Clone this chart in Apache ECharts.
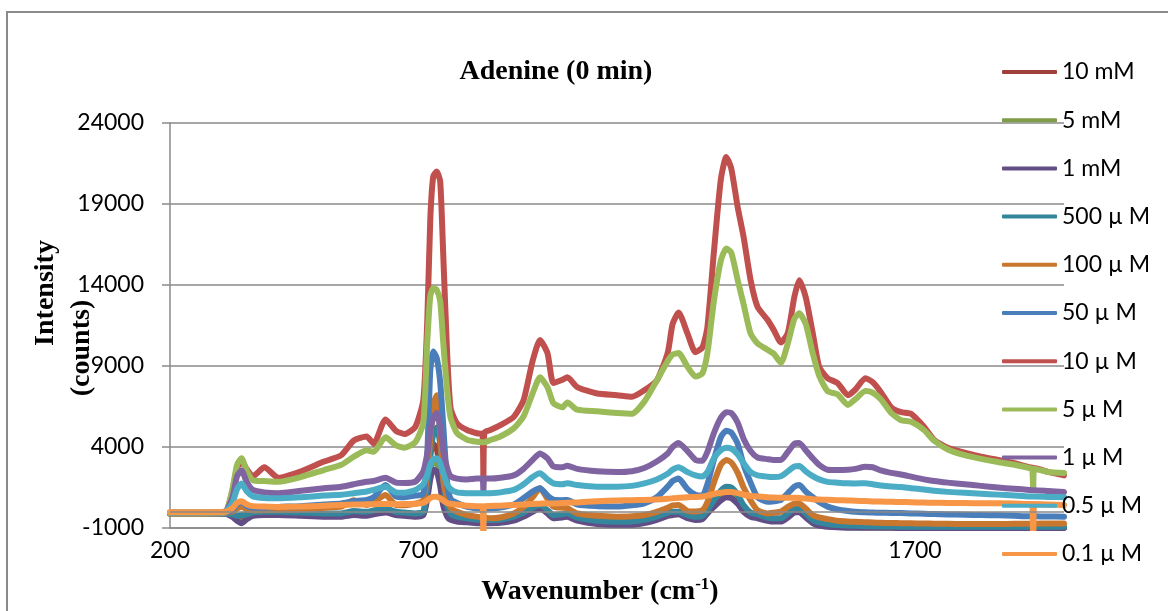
<!DOCTYPE html>
<html>
<head>
<meta charset="utf-8">
<script src="https://cdn.jsdelivr.net/npm/echarts@6/dist/echarts.min.js"></script>
<style>
  html, body { margin: 0; padding: 0; background: #fff; }
  #chart { width: 1168px; height: 611px; }
</style>
</head>
<body>
<div id="chart"></div>
<script>
// Raman shift (cm-1) sample positions shared by every spectrum
const wavenumber = [
  200,260,310,325,335,344,355,367,390,418,
  464,510,545,570,596,610,634,655,672,694,
  710,718,724,730,737,744,750,758,765,778,
  798,818,829,831,833,845,865,892,912,930,
  945,960,972,990,1000,1020,1060,1100,1130,1155,
  1180,1202,1212,1224,1242,1258,1272,1282,1295,1309,
  1320,1330,1343,1355,1369,1383,1403,1416,1430,1444,
  1457,1467,1480,1494,1507,1524,1544,1565,1580,1600,
  1615,1631,1652,1672,1692,1718,1738,1766,1800,1833,
  1867,1900,1930,1936,1938,1940,1968,2000
];

const seriesNames = ['10 mM','5 mM','1 mM','500 µ M','100 µ M','50 µ M','10 µ M','5 µ M','1 µ M','0.5 µ M','0.1 µ M'];
const seriesColors = ['#A0403D','#7F9C48','#634D85','#33869C','#C9772F','#4A7EBB','#C0504D','#9BBB59','#8064A2','#4BACC6','#F79646'];

// Intensities (counts)
const int10mM = [
  -100,-100,-100,-200,-450,-550,-350,-150,-100,-100,
  -150,-200,-200,-100,-150,-50,50,-100,-150,-200,
  -100,1500,3500,4200,3900,2500,800,-100,-400,-500,
  -550,-600,-600,-600,-600,-600,-580,-450,-200,100,
  300,0,-300,-250,-200,-450,-650,-700,-700,-600,
  -400,-150,-100,-80,-300,-400,-350,0,500,1000,
  1200,1150,800,200,-200,-300,-450,-500,-500,-250,
  50,80,-250,-600,-750,-850,-900,-920,-930,-940,
  -940,-950,-950,-950,-950,-950,-950,-950,-960,-960,
  -960,-960,-960,-960,-960,-960,-960,-960
];
const int5mM = [
  -100,-100,-100,-250,-500,-650,-400,-200,-150,-150,
  -200,-250,-250,-150,-200,-100,0,-150,-200,-250,
  -150,1000,2600,3200,3000,2000,600,-200,-450,-550,
  -600,-650,-650,-650,-650,-650,-620,-500,-250,50,
  250,-50,-350,-300,-250,-500,-700,-750,-750,-650,
  -450,-200,-150,-120,-350,-450,-400,-50,400,850,
  1050,1000,650,100,-250,-350,-500,-550,-550,-300,
  0,30,-300,-650,-800,-880,-930,-950,-960,-965,
  -970,-970,-970,-975,-975,-975,-975,-980,-980,-980,
  -980,-980,-980,-980,-980,-980,-980,-980
];
const int1mM = [
  -100,-100,-100,-300,-550,-700,-450,-250,-200,-200,
  -250,-300,-300,-200,-250,-150,-50,-200,-250,-300,
  -200,800,2000,2600,2500,1600,400,-300,-500,-600,
  -650,-700,-700,-700,-700,-700,-680,-550,-300,0,
  200,-100,-400,-350,-300,-550,-750,-800,-800,-700,
  -500,-250,-200,-150,-400,-500,-450,-100,300,700,
  900,850,500,0,-300,-400,-550,-600,-600,-350,
  -50,-20,-350,-700,-850,-920,-960,-980,-990,-990,
  -990,-990,-990,-995,-995,-995,-995,-995,-995,-995,
  -995,-995,-995,-995,-995,-995,-995,-995
];
const int500uM = [
  -100,-100,-100,-150,-250,-200,-150,-50,0,0,
  -50,-100,-100,50,0,80,210,0,-50,-100,
  0,1500,3500,4800,5200,4200,2000,400,-100,-300,
  -400,-480,-500,-500,-500,-500,-480,-300,-50,250,
  420,100,-200,-150,-100,-350,-550,-620,-600,-500,
  -300,-50,0,10,-200,-300,-250,100,700,1300,
  1550,1500,1050,400,-50,-150,-350,-400,-400,-100,
  200,220,-100,-500,-650,-750,-820,-850,-860,-880,
  -890,-900,-910,-920,-920,-920,-920,-930,-930,-930,
  -930,-930,-930,-930,-930,-930,-930,-930
];
const int100uM = [
  -100,-100,-80,0,200,300,150,100,100,110,
  150,250,320,720,420,600,1030,420,400,500,
  700,2500,4500,6600,7200,5000,2000,800,250,0,
  -200,-300,-350,-350,-350,-400,-350,-100,300,900,
  1450,800,320,250,220,-100,-250,-300,-280,-200,
  0,250,400,420,50,20,100,600,1800,2900,
  3200,3050,2400,1500,700,100,-100,-50,10,300,
  500,520,200,-200,-350,-450,-550,-600,-620,-640,
  -660,-680,-690,-700,-710,-720,-730,-740,-750,-750,
  -750,-740,-730,-730,-730,-730,-720,-720
];
const int50uM = [
  -100,-100,-80,100,450,600,350,250,250,300,
  350,450,520,650,730,900,1650,950,900,1000,
  1100,3600,8700,9900,9500,8000,5400,1800,800,540,
  300,220,200,200,200,210,260,450,850,1250,
  1450,1000,750,720,730,450,350,320,400,520,
  900,1550,1900,2050,1400,1050,1000,1700,3200,4600,
  5000,4900,4200,2900,1800,900,620,650,730,1150,
  1550,1650,1250,900,600,320,150,50,0,-30,
  -50,-60,-70,-80,-100,-120,-140,-160,-180,-200,
  -220,-250,-280,-280,-280,-280,-290,-300
];
const int10uM = [
  -100,-100,-50,1200,2700,3100,2600,2200,2750,2100,
  2500,3100,3500,4400,4650,4200,5700,5000,4800,5250,
  6900,11800,18000,20700,21000,20400,16000,9800,6400,5450,
  5050,4850,4800,2000,4900,5050,5350,5850,6900,9300,
  10600,9800,7950,8150,8300,7700,7300,7200,7100,7500,
  8100,9800,11600,12300,11000,9850,10150,11400,16000,20500,
  21900,21200,18800,16950,14300,12650,11850,11200,10450,11050,
  13250,14300,13250,11050,8950,8250,7950,7200,7550,8250,
  8000,7400,6450,6150,6050,5250,4450,3950,3650,3400,
  3200,3000,2750,2720,2700,2700,2460,2250
];
const int5uM = [
  -100,-100,-50,1300,2900,3300,2500,1950,1900,1850,
  2150,2580,2900,3400,3800,3700,4600,4100,3950,4300,
  5500,10500,13300,13800,13700,13000,10500,7500,5800,4850,
  4450,4320,4300,4300,4300,4430,4650,5150,5900,7300,
  8300,7700,6700,6450,6750,6300,6200,6100,6050,6800,
  8100,9300,9700,9800,8950,8350,8550,9800,13000,15500,
  16250,16000,14300,12800,11000,10400,10000,9750,9200,10400,
  11900,12250,11600,9800,8400,7450,7250,6600,6950,7450,
  7350,6950,6100,5650,5560,5050,4400,3850,3500,3270,
  3070,2900,2700,2650,1350,2650,2460,2400
];
const int1uM = [
  -50,-50,0,800,2200,2550,1800,1350,1200,1150,
  1300,1450,1550,1700,1850,1900,2100,1800,1780,1860,
  2500,3600,4900,5800,6100,5200,3800,2700,2200,2050,
  2000,2050,2050,1300,2050,2050,2100,2250,2650,3200,
  3600,3300,2800,2750,2850,2650,2500,2450,2500,2700,
  3100,3600,4000,4250,3750,3200,3150,3700,4850,5800,
  6150,6100,5500,4500,3750,3350,3250,3200,3200,3700,
  4200,4250,3800,3300,2900,2600,2580,2600,2650,2780,
  2750,2550,2400,2300,2170,2000,1900,1800,1700,1600,
  1500,1420,1350,1330,1330,1330,1280,1220
];
const int05uM = [
  -50,-50,0,500,1400,1750,1250,950,850,830,
  900,1000,1050,1150,1250,1350,1550,1200,1180,1350,
  1700,2300,2900,3250,3300,3000,2400,1700,1400,1200,
  1150,1140,1140,1140,1140,1150,1200,1350,1700,2150,
  2380,2000,1750,1700,1760,1650,1550,1550,1600,1750,
  2000,2350,2600,2750,2450,2250,2180,2450,3300,3800,
  3950,3900,3550,3000,2450,2250,2170,2150,2200,2500,
  2800,2830,2500,2200,2000,1850,1800,1760,1750,1760,
  1700,1620,1560,1530,1460,1380,1300,1230,1170,1120,
  1060,1000,950,940,940,940,920,900
];
const int01uM = [
  -30,-30,0,200,550,650,450,350,320,300,
  320,380,420,450,460,470,480,470,480,500,
  550,700,850,920,930,850,700,550,500,450,
  380,350,350,-2500,350,360,380,420,450,480,
  500,520,520,540,560,580,650,700,720,730,
  760,800,830,870,900,920,950,1000,1100,1180,
  1220,1220,1150,1050,980,950,900,880,870,860,
  860,850,820,780,760,740,720,700,680,660,
  640,630,615,605,590,570,560,550,540,530,
  530,520,480,480,-2500,480,450,420
];

const intensities = [int10mM,int5mM,int1mM,int500uM,int100uM,int50uM,int10uM,int5uM,int1uM,int05uM,int01uM];

// Axis tick settings
const xTicks = { min: 200, max: 2000, step: 500 };
const yTicks = { min: -1000, max: 24000, step: 5000 };

const gridColor = '#8a8a8a';
const tickFont = 'Lato, "Open Sans", sans-serif';
const serifFont = '"Liberation Serif", "DejaVu Serif", serif';
const plainNumber = v => String(v);

const series = seriesNames.map((name, k) => {
  const s = {
    name: name,
    type: 'line',
    showSymbol: false,
    symbol: 'none',
    smooth: 0.2,
    color: seriesColors[k],
    lineStyle: { width: 6, cap: 'round', join: 'round' },
    data: wavenumber.map((w, i) => [w, intensities[k][i]]),
    animation: false
  };
  if (k === 0) {
    // horizontal axis crossing at zero counts
    s.markLine = {
      silent: true,
      symbol: ['none', 'none'],
      label: { show: false },
      lineStyle: { color: gridColor, width: 1.5, type: 'solid' },
      data: [{ yAxis: 0 }],
      animation: false
    };
  }
  return s;
});

const chart = echarts.init(document.getElementById('chart'), null, { renderer: 'canvas' });
chart.setOption({
  backgroundColor: '#ffffff',
  animation: false,
  grid: { left: 170, right: 104, top: 123, bottom: 83 },
  xAxis: {
    type: 'value',
    min: xTicks.min, max: xTicks.max, interval: xTicks.step,
    axisLine: { onZero: false, lineStyle: { color: gridColor, width: 1.5 } },
    axisTick: { show: false },
    splitLine: { show: false },
    axisLabel: { fontFamily: tickFont, fontSize: 23, color: '#000', margin: 11, showMaxLabel: false, formatter: plainNumber }
  },
  yAxis: {
    type: 'value',
    min: yTicks.min, max: yTicks.max, interval: yTicks.step,
    axisLine: { show: true, lineStyle: { color: gridColor, width: 1.5 } },
    axisTick: { show: true, length: 8, lineStyle: { color: gridColor, width: 1.5 } },
    splitLine: { lineStyle: { color: gridColor, width: 1.5 } },
    axisLabel: { fontFamily: tickFont, fontSize: 23, color: '#000', margin: 26, formatter: plainNumber }
  },
  legend: {
    orient: 'vertical',
    left: 1002,
    top: 60,
    padding: 0,
    icon: 'roundRect',
    itemWidth: 55,
    itemHeight: 4,
    itemGap: 24.2,
    data: seriesNames,
    textStyle: { fontFamily: tickFont, fontSize: 23, color: '#000', lineHeight: 24 }
  },
  graphic: [
    {
      type: 'rect', z: -10, silent: true,
      shape: { x: 7, y: 12, width: 1200, height: 700 },
      style: { fill: 'none', stroke: '#8a8a8a', lineWidth: 2 }
    },
    {
      type: 'text', silent: true, x: 556, y: 72,
      style: { text: 'Adenine (0 min)', font: 'bold 28px ' + serifFont, fill: '#000', align: 'center', verticalAlign: 'middle' }
    },
    {
      type: 'text', silent: true, x: 46, y: 293, rotation: Math.PI / 2,
      style: { text: 'Intensity', font: 'bold 28px ' + serifFont, fill: '#000', align: 'center', verticalAlign: 'middle' }
    },
    {
      type: 'text', silent: true, x: 82, y: 348, rotation: Math.PI / 2,
      style: { text: '(counts)', font: 'bold 28px ' + serifFont, fill: '#000', align: 'center', verticalAlign: 'middle' }
    },
    {
      type: 'text', silent: true, x: 600, y: 592,
      style: {
        text: '{a|Wavenumber (cm}{s|-1}{a|)}',
        align: 'center', verticalAlign: 'middle',
        rich: {
          a: { font: 'bold 28px ' + serifFont, fill: '#000', color: '#000' },
          s: { font: 'bold 17px ' + serifFont, fill: '#000', color: '#000', padding: [0, 0, 14, 0] }
        }
      }
    }
  ],
  series: series
});
</script>
</body>
</html>
